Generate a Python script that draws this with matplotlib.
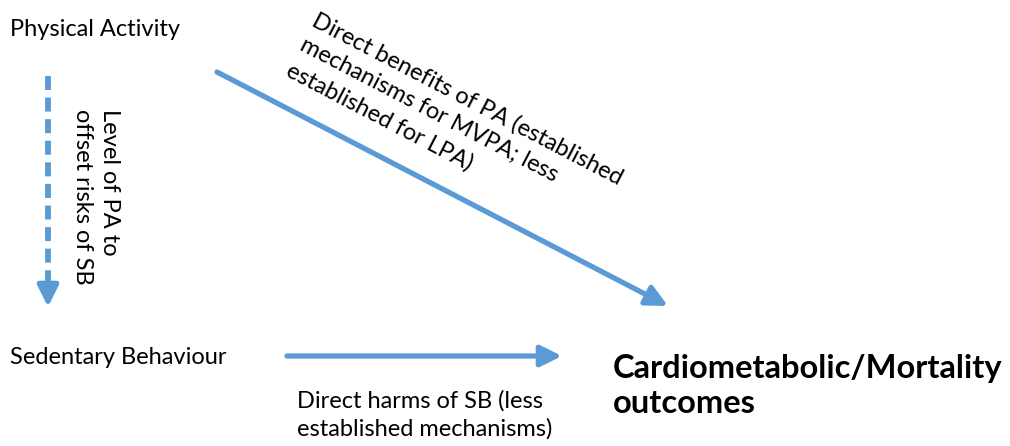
import matplotlib.pyplot as plt
from matplotlib.patches import FancyArrowPatch

BLUE = '#5B9BD5'
FONT = 'Lato'

# node labels
nodes = ['Physical Activity', 'Sedentary Behaviour', 'Cardiometabolic/Mortality\noutcomes']
# edge labels
edges = ['Level of PA to\noffset risks of SB',
         'Direct benefits of PA (established\nmechanisms for MVPA; less\nestablished for LPA)',
         'Direct harms of SB (less\nestablished mechanisms)']

fig = plt.figure(figsize=(10.1, 4.46), dpi=100)
ax = fig.add_axes([0, 0, 1, 1])
ax.set_xlim(0, 1010)
ax.set_ylim(446, 0)
ax.axis('off')


def arrow(p0, p1, ls='-'):
    a = FancyArrowPatch(p0, p1, arrowstyle='-|>,head_length=0.85,head_width=0.42',
                        mutation_scale=15, color=BLUE, lw=3.8, linestyle=ls,
                        shrinkA=0, shrinkB=0)
    ax.add_patch(a)


fs = 17
# nodes
ax.text(10, 30, nodes[0], fontsize=fs, family=FONT, va='center', ha='left')
ax.text(10, 357, nodes[1], fontsize=fs, family=FONT, va='center', ha='left')
ax.text(613, 386, nodes[2], fontsize=23.5, family=FONT, weight='bold',
        va='center', ha='left', linespacing=1.25)

# dashed arrow PA -> SB
ax.plot([48, 48], [76, 285], color=BLUE, lw=4.2, dashes=(2.4, 1.3), solid_capstyle='butt')
arrow((48, 280), (48, 307))

# diagonal arrow PA -> outcomes
arrow((217, 72), (668, 306))

# horizontal arrow SB -> outcomes
arrow((287, 356), (562, 356))

# edge labels
ax.text(96, 197, edges[0], fontsize=fs, family=FONT, rotation=-90,
        ha='center', va='center', multialignment='left', linespacing=1.4)
ax.text(455, 124, edges[1], fontsize=fs, family=FONT, rotation=-27.5,
        ha='center', va='center', multialignment='left', linespacing=1.4)
ax.text(297, 415, edges[2], fontsize=fs, family=FONT, ha='left', va='center',
        linespacing=1.4)

fig.savefig('out.png', dpi=100)
